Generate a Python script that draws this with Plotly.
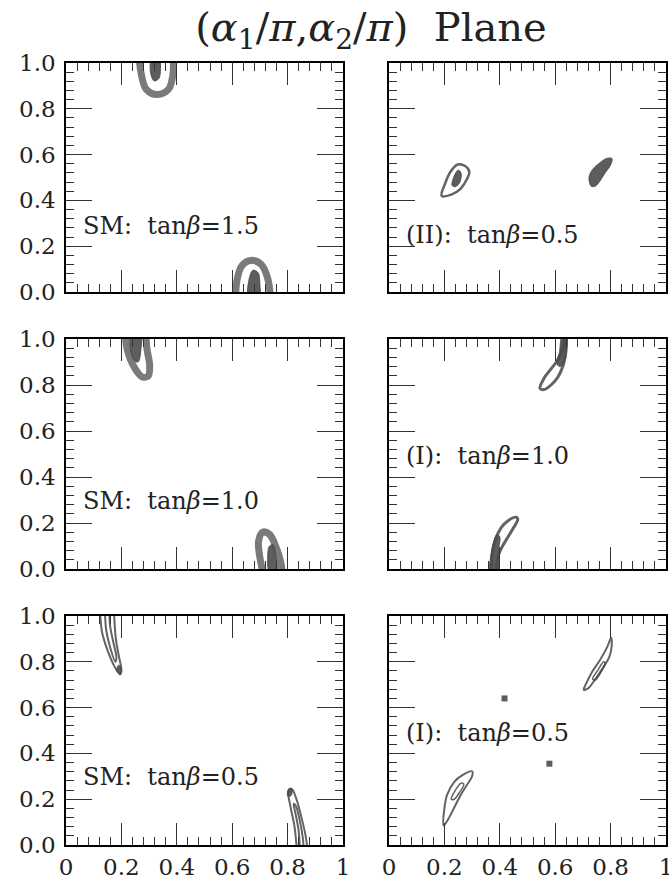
import plotly.graph_objects as go

# ---------------- data ----------------
TITLE = "(<i>α</i><sub>1</sub>/<i>π</i>,<i>α</i><sub>2</sub>/<i>π</i>)  Plane"
X_TICK_VALS = [0, 0.2, 0.4, 0.6, 0.8, 1.0]
X_TICK_TEXT = ["0", "0.2", "0.4", "0.6", "0.8", "1"]
Y_TICK_VALS = [0, 0.2, 0.4, 0.6, 0.8, 1.0]
Y_TICK_TEXT = ["0.0", "0.2", "0.4", "0.6", "0.8", "1.0"]

PANEL_LABELS = ["SM:  tan<i>β</i>=1.5", "(II):  tan<i>β</i>=0.5",
                "SM:  tan<i>β</i>=1.0", "(I):  tan<i>β</i>=1.0",
                "SM:  tan<i>β</i>=0.5", "(I):  tan<i>β</i>=0.5"]
LABEL_Y = [0.29, 0.25, 0.297, 0.493, 0.296, 0.488]

# Panel 1: SM tanβ=1.5
P1_RING_A_X = [0.262, 0.272, 0.29, 0.33, 0.37, 0.386, 0.387]
P1_RING_A_Y = [1.05, 0.95, 0.885, 0.862, 0.885, 0.95, 1.05]
P1_BLOB_A_X = [0.31, 0.305, 0.318, 0.335, 0.341, 0.336]
P1_BLOB_A_Y = [1.02, 0.96, 0.922, 0.932, 0.975, 1.02]
P1_RING_B_X = [0.612, 0.617, 0.635, 0.668, 0.705, 0.728, 0.74]
P1_RING_B_Y = [-0.05, 0.05, 0.115, 0.138, 0.12, 0.06, -0.05]
P1_BLOB_B_X = [0.66, 0.66, 0.675, 0.693, 0.70, 0.698]
P1_BLOB_B_Y = [-0.02, 0.05, 0.095, 0.085, 0.03, -0.02]

# Panel 2: (II) tanβ=0.5
P2_RING_A_X = [0.19, 0.203, 0.222, 0.248, 0.275, 0.29, 0.28, 0.258, 0.225, 0.19]
P2_RING_A_Y = [0.42, 0.475, 0.525, 0.557, 0.55, 0.525, 0.49, 0.45, 0.425, 0.42]
P2_BLOB_A_X = [0.228, 0.235, 0.25, 0.26, 0.256, 0.24]
P2_BLOB_A_Y = [0.465, 0.505, 0.532, 0.52, 0.48, 0.46]
P2_BLOB_B_X = [0.73, 0.722, 0.735, 0.76, 0.785, 0.805, 0.80, 0.78, 0.76, 0.745]
P2_BLOB_B_Y = [0.462, 0.5, 0.535, 0.563, 0.583, 0.583, 0.555, 0.52, 0.482, 0.462]

# Panel 3: SM tanβ=1.0
P3_RING_A_X = [0.213, 0.22, 0.245, 0.275, 0.297, 0.302, 0.292, 0.287]
P3_RING_A_Y = [1.05, 0.96, 0.88, 0.835, 0.84, 0.885, 0.96, 1.05]
P3_BLOB_A_X = [0.235, 0.232, 0.245, 0.26, 0.27, 0.268]
P3_BLOB_A_Y = [1.02, 0.96, 0.91, 0.9, 0.95, 1.02]
P3_RING_B_X = [0.718, 0.70, 0.695, 0.71, 0.735, 0.76, 0.775, 0.785]
P3_RING_B_Y = [-0.05, 0.05, 0.12, 0.16, 0.15, 0.09, 0.03, -0.05]
P3_BLOB_B_X = [0.735, 0.728, 0.735, 0.748, 0.757, 0.76]
P3_BLOB_B_Y = [-0.02, 0.05, 0.1, 0.105, 0.06, -0.02]

# Panel 4: (I) tanβ=1.0
P4_RING_A_X = [0.545, 0.56, 0.585, 0.61, 0.628, 0.635, 0.64, 0.63, 0.61, 0.585, 0.56, 0.545]
P4_RING_A_Y = [0.785, 0.83, 0.87, 0.91, 0.96, 1.02, 0.96, 0.89, 0.835, 0.8, 0.78, 0.785]
P4_BLOB_A_X = [0.605, 0.615, 0.625, 0.642, 0.64, 0.628, 0.615]
P4_BLOB_A_Y = [0.9, 0.94, 1.01, 1.01, 0.95, 0.89, 0.88]
P4_RING_B_X = [0.37, 0.372, 0.385, 0.405, 0.43, 0.46, 0.465, 0.45, 0.43, 0.41, 0.395, 0.385]
P4_RING_B_Y = [-0.02, 0.06, 0.13, 0.18, 0.21, 0.225, 0.215, 0.18, 0.14, 0.1, 0.06, -0.02]
P4_BLOB_B_X = [0.365, 0.368, 0.378, 0.39, 0.40, 0.395, 0.39]
P4_BLOB_B_Y = [-0.02, 0.06, 0.12, 0.15, 0.14, 0.08, -0.02]

# Panel 5: SM tanβ=0.5
P5_RING_A_X = [0.122, 0.13, 0.15, 0.175, 0.195, 0.2, 0.19, 0.18, 0.172]
P5_RING_A_Y = [1.05, 0.93, 0.85, 0.78, 0.745, 0.76, 0.83, 0.9, 1.05]
P5_RING_A2_X = [0.14, 0.145, 0.16, 0.178, 0.182, 0.172, 0.16, 0.155]
P5_RING_A2_Y = [1.05, 0.94, 0.86, 0.8, 0.82, 0.88, 0.95, 1.05]
P5_BLOB_A_X = [0.183, 0.19, 0.199, 0.197]
P5_BLOB_A_Y = [0.76, 0.785, 0.772, 0.748]
P5_RING_B_X = [0.835, 0.825, 0.81, 0.803, 0.815, 0.832, 0.85, 0.865, 0.875]
P5_RING_B_Y = [-0.05, 0.08, 0.17, 0.235, 0.245, 0.2, 0.12, 0.04, -0.05]
P5_RING_B2_X = [0.845, 0.84, 0.828, 0.822, 0.83, 0.845, 0.855, 0.86]
P5_RING_B2_Y = [-0.05, 0.06, 0.14, 0.18, 0.17, 0.1, 0.03, -0.05]
P5_BLOB_B_X = [0.80, 0.805, 0.816, 0.812]
P5_BLOB_B_Y = [0.215, 0.247, 0.244, 0.215]

# Panel 6: (I) tanβ=0.5
P6_RING_A_X = [0.703, 0.71, 0.733, 0.763, 0.788, 0.802, 0.804, 0.795, 0.77, 0.745, 0.72, 0.703]
P6_RING_A_Y = [0.678, 0.70, 0.755, 0.81, 0.865, 0.905, 0.87, 0.82, 0.77, 0.725, 0.685, 0.678]
P6_RING_A2_X = [0.735, 0.755, 0.775, 0.78, 0.765, 0.745, 0.735]
P6_RING_A2_Y = [0.725, 0.765, 0.80, 0.79, 0.755, 0.72, 0.725]
P6_RING_B_X = [0.197, 0.199, 0.21, 0.235, 0.265, 0.3, 0.3, 0.28, 0.255, 0.23, 0.21, 0.197]
P6_RING_B_Y = [0.085, 0.15, 0.22, 0.275, 0.305, 0.322, 0.3, 0.26, 0.21, 0.15, 0.105, 0.085]
P6_RING_B2_X = [0.225, 0.24, 0.26, 0.27, 0.255, 0.235, 0.225]
P6_RING_B2_Y = [0.2, 0.24, 0.27, 0.265, 0.23, 0.2, 0.2]
P6_DOTS_X = [0.417, 0.579]
P6_DOTS_Y = [0.64, 0.355]

# ---------------- figure ----------------
W, H = 669, 888


def px_x(p):
    return p / W


def px_y(p):
    return 1 - p / H


X_DOMAINS = [[px_x(66), px_x(343)], [px_x(389), px_x(666)]]
Y_DOMAINS = [[px_y(292), px_y(63)], [px_y(569), px_y(339)], [px_y(845), px_y(616)]]

BAND = "rgba(70,70,70,0.72)"
LINE = "rgba(60,60,60,0.8)"
FILL = "rgba(75,75,75,0.9)"
FONT = "DejaVu Serif"

fig = go.Figure()


def ax(i):
    return ("x" if i == 1 else f"x{i}"), ("y" if i == 1 else f"y{i}")


def ring(i, xs, ys, width, color=BAND):
    xa, ya = ax(i)
    fig.add_trace(go.Scatter(x=xs, y=ys, xaxis=xa, yaxis=ya, mode="lines",
                             line=dict(color=color, width=width, shape="spline", smoothing=1.0),
                             hoverinfo="skip", showlegend=False))


def blob(i, xs, ys):
    xa, ya = ax(i)
    fig.add_trace(go.Scatter(x=xs + xs[:1], y=ys + ys[:1], xaxis=xa, yaxis=ya, mode="lines",
                             fill="toself", fillcolor=FILL,
                             line=dict(color=FILL, width=1, shape="spline", smoothing=1.0),
                             hoverinfo="skip", showlegend=False))


# panel 1
ring(1, P1_RING_A_X, P1_RING_A_Y, 7)
blob(1, P1_BLOB_A_X, P1_BLOB_A_Y)
ring(1, P1_RING_B_X, P1_RING_B_Y, 7)
blob(1, P1_BLOB_B_X, P1_BLOB_B_Y)
# panel 2
ring(2, P2_RING_A_X, P2_RING_A_Y, 2.5, LINE)
blob(2, P2_BLOB_A_X, P2_BLOB_A_Y)
blob(2, P2_BLOB_B_X, P2_BLOB_B_Y)
# panel 3
ring(3, P3_RING_A_X, P3_RING_A_Y, 7)
blob(3, P3_BLOB_A_X, P3_BLOB_A_Y)
ring(3, P3_RING_B_X, P3_RING_B_Y, 7)
blob(3, P3_BLOB_B_X, P3_BLOB_B_Y)
# panel 4
ring(4, P4_RING_A_X, P4_RING_A_Y, 3, LINE)
blob(4, P4_BLOB_A_X, P4_BLOB_A_Y)
ring(4, P4_RING_B_X, P4_RING_B_Y, 3, LINE)
blob(4, P4_BLOB_B_X, P4_BLOB_B_Y)
# panel 5
ring(5, P5_RING_A_X, P5_RING_A_Y, 2, LINE)
ring(5, P5_RING_A2_X, P5_RING_A2_Y, 2, LINE)
blob(5, P5_BLOB_A_X, P5_BLOB_A_Y)
ring(5, P5_RING_B_X, P5_RING_B_Y, 2, LINE)
ring(5, P5_RING_B2_X, P5_RING_B2_Y, 2, LINE)
blob(5, P5_BLOB_B_X, P5_BLOB_B_Y)
# panel 6
ring(6, P6_RING_A_X, P6_RING_A_Y, 2, LINE)
ring(6, P6_RING_A2_X, P6_RING_A2_Y, 1.5, LINE)
ring(6, P6_RING_B_X, P6_RING_B_Y, 2, LINE)
ring(6, P6_RING_B2_X, P6_RING_B2_Y, 1.5, LINE)
fig.add_trace(go.Scatter(x=P6_DOTS_X, y=P6_DOTS_Y, xaxis="x6", yaxis="y6", mode="markers",
                         marker=dict(color=FILL, size=6, symbol="square"),
                         hoverinfo="skip", showlegend=False))

layout = dict(
    width=W, height=H, margin=dict(l=0, r=0, t=0, b=0),
    paper_bgcolor="white", plot_bgcolor="white", showlegend=False,
    title=dict(text=TITLE, x=px_x(371), y=px_y(27), xanchor="center", yanchor="middle",
               font=dict(family=FONT, size=40, color="#222")),
)

annotations = []
for i in range(1, 7):
    row, col = (i - 1) // 2, (i - 1) % 2
    xa, ya = ax(i)
    common = dict(range=[0, 1], showgrid=False, zeroline=False, showline=True,
                  linecolor="black", linewidth=1.5, mirror="allticks",
                  ticks="inside", tickwidth=1, tickcolor="#333",
                  tickfont=dict(family=FONT, size=23, color="#222"),
                  ticklabeloverflow="allow",
                  fixedrange=True, automargin=False)
    layout["xaxis" if i == 1 else f"xaxis{i}"] = dict(
        common, domain=X_DOMAINS[col], anchor=ya, ticklen=22,
        tickvals=X_TICK_VALS, ticktext=X_TICK_TEXT, showticklabels=(row == 2),
        ticklabelstandoff=1,
        minor=dict(ticks="inside", ticklen=8, tickwidth=1, tickcolor="#333", dtick=0.04, tick0=0))
    layout["yaxis" if i == 1 else f"yaxis{i}"] = dict(
        common, domain=Y_DOMAINS[row], anchor=xa, ticklen=26,
        tickvals=Y_TICK_VALS, ticktext=Y_TICK_TEXT, showticklabels=(col == 0),
        ticklabelstandoff=4,
        minor=dict(ticks="inside", ticklen=8, tickwidth=1, tickcolor="#333", dtick=0.04, tick0=0))
    annotations.append(dict(text=PANEL_LABELS[i - 1], xref=xa, yref=ya, x=0.055, y=LABEL_Y[i - 1],
                            xanchor="left", yanchor="middle", showarrow=False,
                            font=dict(family=FONT, size=24, color="#222")))

layout["annotations"] = annotations
fig.update_layout(**layout)
# remove the default 8px page margin so the figure sits at the window's top-left corner
fig.write_html("out.html", config={"displayModeBar": False},
               post_script="document.body.style.margin='0';document.body.style.overflow='hidden';")
